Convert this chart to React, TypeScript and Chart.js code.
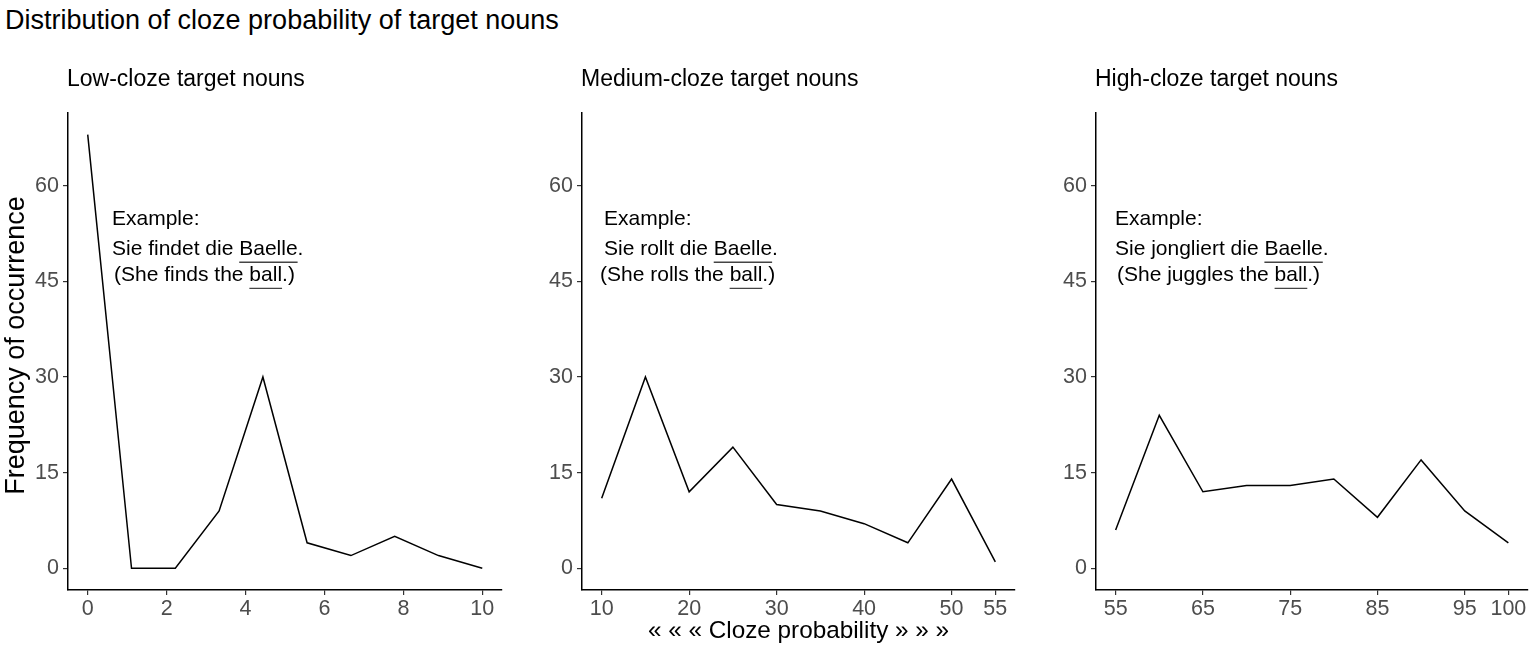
import React, { useEffect, useRef } from "react";
import { Chart, registerables } from "chart.js";

Chart.register(...registerables);

const FONT = "'Liberation Sans', Arial, Helvetica, sans-serif";

const mainTitle = "Distribution of cloze probability of target nouns";
const panelTitles = ["Low-cloze target nouns", "Medium-cloze target nouns", "High-cloze target nouns"];
const yAxisTitle = "Frequency of occurrence";
const xAxisTitle = "« « « Cloze probability » » »";

// data
const lowCloze = [0, 1.11, 2.22, 3.33, 4.44, 5.56, 6.67, 7.78, 8.89, 10];
const lowFreq = [68, 0, 0, 9, 30, 4, 2, 5, 2, 0];
const medCloze = [10, 15, 20, 25, 30, 35, 40, 45, 50, 55];
const medFreq = [11, 30, 12, 19, 10, 9, 7, 4, 14, 1];
const highCloze = [55, 60, 65, 70, 75, 80, 85, 90, 95, 100];
const highFreq = [6, 24, 12, 13, 13, 14, 8, 17, 9, 4];

// tick labels
const lowTicks = [0, 2, 4, 6, 8, 10];
const medTicks = [10, 20, 30, 40, 50, 55];
const highTicks = [55, 65, 75, 85, 95, 100];
const freqTicks = [0, 15, 30, 45, 60];

// annotation texts
const exampleHeading = "Example:";
const germanSentences = [
  ["Sie findet die ", "Baelle", "."],
  ["Sie rollt die ", "Baelle", "."],
  ["Sie jongliert die ", "Baelle", "."],
];
const englishSentences = [
  ["(She finds the ", "ball", ".)"],
  ["(She rolls the ", "ball", ".)"],
  ["(She juggles the ", "ball", ".)"],
];

// annotation anchors (data units): left edges of each line, baselines
const exampleLeft = [0.64, 10.38, 55.04];
const germanLeft = [0.64, 10.38, 55.04];
const englishLeft = [0.69, 9.93, 55.27];
const noteBaselines = [53.8, 49.1, 45.0];

const panelX = [lowCloze, medCloze, highCloze];
const panelY = [lowFreq, medFreq, highFreq];
const panelTicks = [lowTicks, medTicks, highTicks];

// layout of the three canvases
const panelBoxes = [
  { left: 0, width: 520, yw: 68, pr: 18 },
  { left: 520, width: 515, yw: 62, pr: 20 },
  { left: 1035, width: 500, yw: 61, pr: 7 },
];
const H = 650;

const allFreq = [...lowFreq, ...medFreq, ...highFreq];
const fMax = Math.max(...allFreq);
const fMin = Math.min(...allFreq);
const yMin = fMin - 0.05 * (fMax - fMin);
const yMax = fMax + 0.05 * (fMax - fMin);

function textPlugin(p: number) {
  return {
    id: "panelText" + p,
    afterDraw(chart: any) {
      const { ctx, chartArea } = chart;
      const xs = chart.scales.x;
      const ys = chart.scales.y;
      ctx.save();
      ctx.fillStyle = "#000";
      ctx.textBaseline = "alphabetic";
      ctx.textAlign = "left";
      ctx.font = `23px ${FONT}`;
      ctx.fillText(panelTitles[p], chartArea.left - 1, chartArea.top - 27);

      if (p === 0) {
        ctx.save();
        ctx.font = `27px ${FONT}`;
        ctx.textAlign = "center";
        ctx.textBaseline = "middle";
        ctx.translate(17, (chartArea.top + chartArea.bottom) / 2 - 6);
        ctx.rotate(-Math.PI / 2);
        ctx.fillText(yAxisTitle, 0, 0);
        ctx.restore();
      }

      ctx.font = `21px ${FONT}`;
      ctx.fillText(exampleHeading, xs.getPixelForValue(exampleLeft[p]) - 1, ys.getPixelForValue(noteBaselines[0]));

      const drawLine = (parts: string[], leftV: number, baseV: number) => {
        const full = parts.join("");
        const x = xs.getPixelForValue(leftV) - 1;
        const y = ys.getPixelForValue(baseV);
        ctx.fillStyle = "#000";
        ctx.fillText(full, x, y);
        const pre = ctx.measureText(parts[0]).width;
        const uw = ctx.measureText(parts[1]).width;
        ctx.beginPath();
        ctx.moveTo(x + pre, y + 7);
        ctx.lineTo(x + pre + uw, y + 7);
        ctx.strokeStyle = "#444";
        ctx.lineWidth = 1.4;
        ctx.stroke();
      };
      drawLine(germanSentences[p], germanLeft[p], noteBaselines[1]);
      drawLine(englishSentences[p], englishLeft[p], noteBaselines[2]);
      ctx.restore();
    },
  };
}

function makeConfig(p: number): any {
  const xsData = panelX[p];
  const ysData = panelY[p];
  const xmin = Math.min(...xsData);
  const xmax = Math.max(...xsData);
  const pad = 0.05 * (xmax - xmin);
  const box = panelBoxes[p];
  const ticks = panelTicks[p];
  return {
    type: "line",
    data: {
      datasets: [
        {
          data: xsData.map((x, i) => ({ x, y: ysData[i] })),
          borderColor: "#000",
          borderWidth: 1.5,
          pointRadius: 0,
          tension: 0,
          fill: false,
        },
      ],
    },
    options: {
      animation: false,
      responsive: false,
      events: [],
      layout: { padding: { top: 113, right: box.pr, left: 0, bottom: 0 } },
      plugins: {
        legend: { display: false },
        tooltip: { enabled: false },
        title: { display: false },
      },
      scales: {
        x: {
          type: "linear",
          min: xmin - pad,
          max: xmax + pad,
          afterBuildTicks: (s: any) => {
            s.ticks = ticks.map((v) => ({ value: v }));
          },
          afterFit: (s: any) => {
            s.height = 60;
            s.paddingLeft = 0;
            s.paddingRight = 0;
          },
          grid: { drawOnChartArea: false, drawTicks: true, tickLength: 5, color: "#333", lineWidth: 1.2 },
          border: { display: true, color: "#000", width: 1.5 },
          ticks: {
            color: "#4d4d4d",
            font: { family: FONT, size: 21.5 },
            padding: 1,
            autoSkip: false,
            maxRotation: 0,
            minRotation: 0,
          },
          title: {
            display: p === 1,
            text: xAxisTitle,
            color: "#000",
            font: { family: FONT, size: 24.3 },
            padding: { top: 0, bottom: 4 },
          },
        },
        y: {
          type: "linear",
          min: yMin,
          max: yMax,
          afterBuildTicks: (s: any) => {
            s.ticks = freqTicks.map((v) => ({ value: v }));
          },
          afterFit: (s: any) => {
            s.width = box.yw;
            s.paddingTop = 0;
            s.paddingBottom = 0;
          },
          grid: { drawOnChartArea: false, drawTicks: true, tickLength: 5, color: "#333", lineWidth: 1.2 },
          border: { display: true, color: "#000", width: 1.5 },
          ticks: {
            color: "#4d4d4d",
            font: { family: FONT, size: 21.5 },
            padding: 4,
            autoSkip: false,
          },
          title: { display: false },
        },
      },
    },
    plugins: [textPlugin(p)],
  };
}

function Panel({ p }: { p: number }) {
  const ref = useRef<HTMLCanvasElement | null>(null);
  useEffect(() => {
    if (!ref.current) return;
    const chart = new Chart(ref.current, makeConfig(p));
    return () => chart.destroy();
  }, [p]);
  const box = panelBoxes[p];
  return (
    <canvas
      ref={ref}
      width={box.width}
      height={H}
      style={{ position: "absolute", left: box.left, top: 0, width: box.width, height: H, display: "block" }}
    />
  );
}

export default function App() {
  return (
    <div style={{ position: "absolute", left: 0, top: 0, width: 1535, height: H, background: "#fff", overflow: "hidden" }}>
      <div
        style={{
          position: "absolute",
          left: 5,
          top: 7,
          fontFamily: FONT,
          fontSize: 27,
          lineHeight: "27px",
          color: "#000",
          whiteSpace: "nowrap",
        }}
      >
        {mainTitle}
      </div>
      <Panel p={0} />
      <Panel p={1} />
      <Panel p={2} />
    </div>
  );
}
